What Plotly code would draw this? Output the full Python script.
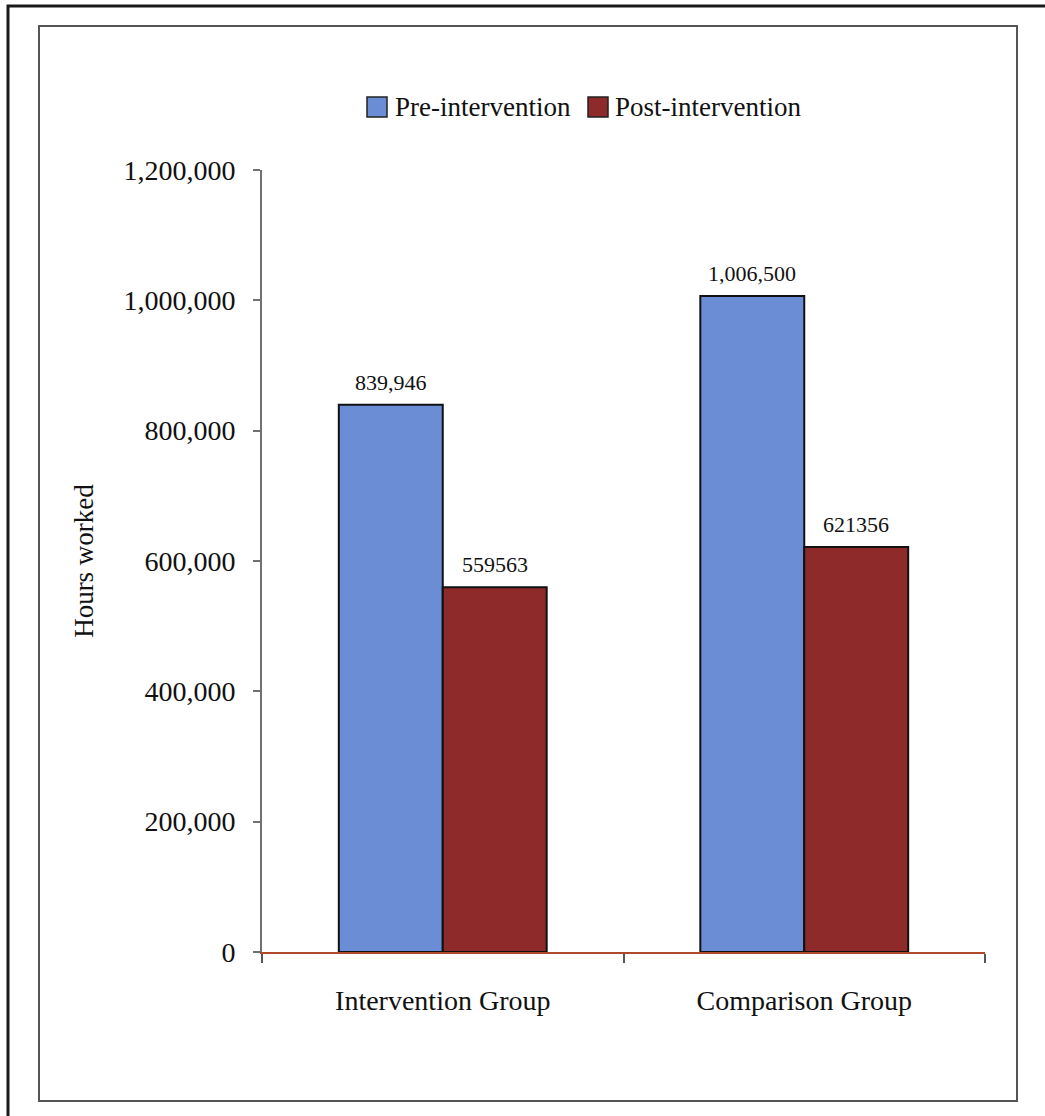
import plotly.graph_objects as go

categories = ["Intervention Group", "Comparison Group"]
pre_values = [839946, 1006500]
post_values = [559563, 621356]
pre_labels = ["839,946", "1,006,500"]
post_labels = ["559563", "621356"]
series_names = ["Pre-intervention", "Post-intervention"]
y_ticks = [0, 200000, 400000, 600000, 800000, 1000000, 1200000]
y_tick_labels = ["0", "200,000", "400,000", "600,000", "800,000", "1,000,000", "1,200,000"]

W, H = 1045, 1116
L, R, T, B = 262, 985, 170, 952
FONT = "Liberation Serif, Times New Roman, serif"
BLUE = "#6A8DD6"
RED = "#8E2A2A"

def px(x):
    return (x - L) / (R - L)

def py(y):
    return (B - y) / (B - T)

fig = go.Figure()
fig.add_trace(go.Bar(x=categories, y=pre_values, name=series_names[0],
                     marker=dict(color=BLUE, line=dict(color="#111", width=2)), showlegend=False))
fig.add_trace(go.Bar(x=categories, y=post_values, name=series_names[1],
                     marker=dict(color=RED, line=dict(color="#111", width=2)), showlegend=False))

shapes = [
    dict(type="rect", xref="paper", yref="paper", x0=px(8), x1=px(1060), y0=py(1130), y1=py(6),
         line=dict(color="#1a1a1a", width=3)),
    dict(type="rect", xref="paper", yref="paper", x0=px(39), x1=px(1017), y0=py(1101), y1=py(26),
         line=dict(color="#555555", width=2)),
    dict(type="rect", xref="paper", yref="paper", x0=px(367), x1=px(387), y0=py(117), y1=py(97),
         fillcolor=BLUE, line=dict(color="#222", width=1.5)),
    dict(type="rect", xref="paper", yref="paper", x0=px(588), x1=px(608), y0=py(117), y1=py(97),
         fillcolor=RED, line=dict(color="#222", width=1.5)),
]
annotations = [
    dict(xref="paper", yref="paper", x=px(393), y=py(107), text=series_names[0], showarrow=False,
         xanchor="left", yanchor="middle", font=dict(size=27, family=FONT, color="#111")),
    dict(xref="paper", yref="paper", x=px(613), y=py(107), text=series_names[1], showarrow=False,
         xanchor="left", yanchor="middle", font=dict(size=27, family=FONT, color="#111")),
]
for cat, v, lab in zip(categories, pre_values, pre_labels):
    annotations.append(dict(x=cat, y=v, xref="x", yref="y", text=lab, showarrow=False,
                            xshift=-52, yshift=8, yanchor="bottom",
                            font=dict(size=22, family=FONT, color="#111")))
for cat, v, lab in zip(categories, post_values, post_labels):
    annotations.append(dict(x=cat, y=v, xref="x", yref="y", text=lab, showarrow=False,
                            xshift=52, yshift=8, yanchor="bottom",
                            font=dict(size=22, family=FONT, color="#111")))

fig.update_layout(
    width=W, height=H,
    margin=dict(l=L, r=W - R, t=T, b=H - B, pad=0),
    paper_bgcolor="white", plot_bgcolor="white",
    barmode="group", bargap=0.425, bargroupgap=0,
    showlegend=False,
    shapes=shapes, annotations=annotations,
    font=dict(family=FONT, color="#111"),
    xaxis=dict(type="category", range=[-0.5, 1.5], showline=True, linecolor="#B0482A", linewidth=2,
               ticks="outside", tickson="boundaries", ticklen=9, tickcolor="#555", tickwidth=1.5,
               ticklabelstandoff=22,
               tickfont=dict(size=28, family=FONT, color="#111"), showgrid=False, zeroline=False),
    yaxis=dict(range=[0, 1200000], tickvals=y_ticks, ticktext=y_tick_labels, showline=True,
               linecolor="#707070", linewidth=2, ticks="outside", ticklen=7, tickcolor="#707070",
               tickwidth=1.5, ticklabelstandoff=12,
               tickfont=dict(size=28, family=FONT, color="#111"), showgrid=False, zeroline=False,
               title=dict(text="Hours worked", font=dict(size=27, family=FONT, color="#111"), standoff=22)),
)
fig.write_html("out.html")
